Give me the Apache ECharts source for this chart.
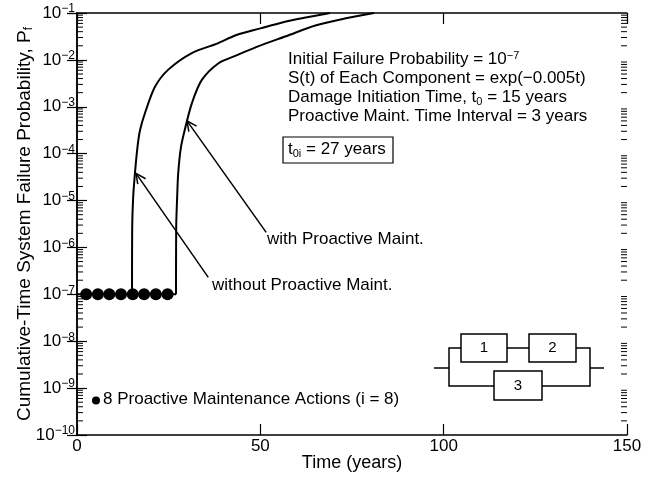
<!DOCTYPE html>
<html>
<head>
<meta charset="utf-8">
<script src="https://cdn.jsdelivr.net/npm/echarts@6/dist/echarts.min.js"></script>
<style>
html, body { margin: 0; padding: 0; background: #fff; }
#chart { width: 657px; height: 479px; }
</style>
</head>
<body>
<div id="chart"></div>
<script>
const FONT = '"Liberation Sans", Arial, Helvetica, sans-serif'

// axis ticks
const xTicks = [0, 50, 100, 150]
const yExponents = [-10, -9, -8, -7, -6, -5, -4, -3, -2, -1]
const minorFactors = [2, 3, 4, 5, 6, 7, 8, 9]

// initial failure probability plateau
const plateauT = [0, 27]
const plateauPf = [1e-7, 1e-7]

// without proactive maintenance (damage starts at t0 = 15 years)
const withoutT = [15, 15.05, 15.3, 15.8, 16.5, 17.2, 18.5, 21.3, 24.9, 31.3, 38, 43.5, 50, 56, 62, 69]
const withoutPf = [1e-7, 2.5e-6, 1.1e-5, 3.8e-5, 1.4e-4, 3.2e-4, 7.2e-4, 2.7e-3, 6.2e-3, 1.4e-2, 2.2e-2, 3.4e-2, 4.7e-2, 6.3e-2, 7.9e-2, 1e-1]

// with proactive maintenance (t0i = 27 years)
const withT = [27, 27.05, 27.3, 27.6, 28.3, 29.3, 31.3, 34, 38.6, 43, 49, 57, 65, 73, 81]
const withPf = [1e-7, 2.5e-6, 1.1e-5, 3.8e-5, 1.3e-4, 3.0e-4, 1.17e-3, 3.7e-3, 8.5e-3, 1.2e-2, 1.9e-2, 3.2e-2, 5.4e-2, 7.6e-2, 1e-1]

// proactive maintenance actions (dots)
const actionT = [2.5, 5.7, 8.8, 12, 15.2, 18.3, 21.5, 24.7]
const actionPf = 1e-7

// annotation arrows: [tailT, tailPf, headT, headPf]
const arrows = [
    [35.8, 2.3e-7, 16.1, 3.8e-5],   // without
    [51.6, 2.1e-6, 30.0, 5.0e-4]    // with
]

const minorTickValues = []
yExponents.slice(0, -1).forEach(e => {
    minorFactors.forEach(f => minorTickValues.push([0, f * Math.pow(10, e)]))
})

const black = '#000'
const chart = echarts.init(document.getElementById('chart'))

const supLabel = value => {
    const e = Math.round(Math.log10(value))
    return `{b|10}{s|${e < 0 ? '\u2212' + (-e) : e}}`
}

const curveLine = (name, ts, pfs) => ({
    name: name,
    type: 'line',
    showSymbol: false,
    smooth: 0.3,
    lineStyle: { color: black, width: 2 },
    data: ts.map((t, i) => [t, pfs[i]]),
    z: 3
})

const option = {
    animation: false,
    backgroundColor: '#fff',
    textStyle: { fontFamily: FONT, color: black },
    grid: { left: 77, right: 30, top: 13, bottom: 44, outerBoundsMode: 'none', containLabel: false },
    xAxis: [
        {
            type: 'value',
            min: xTicks[0],
            max: xTicks[xTicks.length - 1],
            interval: 50,
            name: 'Time (years)',
            nameLocation: 'middle',
            nameGap: 19,
            nameMoveOverlap: false,
            nameTextStyle: { fontSize: 18, fontFamily: FONT, color: black },
            axisLine: { lineStyle: { color: black, width: 1.5 } },
            axisTick: { inside: true, length: 11, lineStyle: { color: black, width: 1.2 } },
            axisLabel: { fontSize: 17, fontFamily: FONT, color: black, margin: 3 },
            splitLine: { show: false }
        },
        {
            type: 'value',
            position: 'top',
            min: xTicks[0],
            max: xTicks[xTicks.length - 1],
            interval: 50,
            axisLine: { lineStyle: { color: black, width: 1.5 } },
            axisTick: { inside: true, length: 11, lineStyle: { color: black, width: 1.2 } },
            axisLabel: { show: false },
            splitLine: { show: false }
        }
    ],
    yAxis: [
        {
            type: 'log',
            logBase: 10,
            min: Math.pow(10, yExponents[0]),
            max: Math.pow(10, yExponents[yExponents.length - 1]),
            splitNumber: 9,
            name: 'Cumulative-Time System Failure Probability, P{sub|f}',
            nameLocation: 'middle',
            nameGap: 42,
            nameMoveOverlap: false,
            nameTextStyle: {
                fontSize: 19, fontFamily: FONT, color: black, lineHeight: 21,
                rich: { sub: { fontSize: 12, fontFamily: FONT, lineHeight: 10, verticalAlign: 'bottom' } }
            },
            axisLine: { lineStyle: { color: black, width: 1.5 } },
            axisTick: { inside: true, length: 10, lineStyle: { color: black, width: 1.2 } },
            axisLabel: {
                margin: 2,
                formatter: supLabel,
                rich: {
                    b: { fontSize: 17, fontFamily: FONT, color: black, lineHeight: 20 },
                    s: { fontSize: 12, fontFamily: FONT, color: black, lineHeight: 10, verticalAlign: 'top' }
                }
            },
            splitLine: { show: false }
        },
        {
            type: 'log',
            logBase: 10,
            position: 'right',
            min: Math.pow(10, yExponents[0]),
            max: Math.pow(10, yExponents[yExponents.length - 1]),
            splitNumber: 9,
            axisLine: { lineStyle: { color: black, width: 1.5 } },
            axisTick: { inside: true, length: 10, lineStyle: { color: black, width: 1.2 } },
            axisLabel: { show: false },
            splitLine: { show: false }
        }
    ],
    series: [
        {
            name: 'plateau',
            type: 'line',
            showSymbol: false,
            lineStyle: { color: black, width: 2 },
            data: plateauT.map((t, i) => [t, plateauPf[i]]),
            z: 3
        },
        curveLine('without Proactive Maint.', withoutT, withoutPf),
        curveLine('with Proactive Maint.', withT, withPf),
        {
            name: 'Proactive Maintenance Actions',
            type: 'scatter',
            symbol: 'circle',
            symbolSize: 12,
            itemStyle: { color: black, opacity: 1 },
            data: actionT.map(t => [t, actionPf]),
            z: 4
        },
        {
            // minor log ticks, both sides
            type: 'custom',
            clip: false,
            silent: true,
            data: minorTickValues,
            renderItem: (params, api) => {
                const v = api.value(1)
                const l = api.coord([xTicks[0], v])
                const r = api.coord([xTicks[xTicks.length - 1], v])
                const st = { stroke: black, lineWidth: 1 }
                return {
                    type: 'group',
                    children: [
                        { type: 'line', shape: { x1: l[0], y1: l[1], x2: l[0] + 6, y2: l[1] }, style: st },
                        { type: 'line', shape: { x1: r[0], y1: r[1], x2: r[0] - 6, y2: r[1] }, style: st }
                    ]
                }
            }
        },
        {
            // annotation arrows
            type: 'custom',
            clip: false,
            silent: true,
            data: arrows,
            encode: { x: [0, 2], y: [1, 3] },
            renderItem: (params, api) => {
                const t = api.coord([api.value(0), api.value(1)])
                const h = api.coord([api.value(2), api.value(3)])
                const ang = Math.atan2(t[1] - h[1], t[0] - h[0])
                const len = 11, spread = 0.45
                const w1 = [h[0] + len * Math.cos(ang + spread), h[1] + len * Math.sin(ang + spread)]
                const w2 = [h[0] + len * Math.cos(ang - spread), h[1] + len * Math.sin(ang - spread)]
                const st = { stroke: black, lineWidth: 1.5, fill: null }
                return {
                    type: 'group',
                    children: [
                        { type: 'line', shape: { x1: t[0], y1: t[1], x2: h[0], y2: h[1] }, style: st },
                        { type: 'polyline', shape: { points: [w1, h, w2] }, style: st }
                    ]
                }
            }
        }
    ],
    graphic: [
        {
            type: 'text',
            left: 288,
            top: 50,
            style: {
                text: 'Initial Failure Probability = 10{sup|\u22127}\n' +
                    'S(t) of Each Component = exp(\u22120.005t)\n' +
                    'Damage Initiation Time, t{sub|0} = 15 years\n' +
                    'Proactive Maint. Time Interval = 3 years',
                font: '17px ' + FONT,
                fill: black,
                lineHeight: 19,
                rich: {
                    sup: { font: '11px ' + FONT, lineHeight: 10, verticalAlign: 'top' },
                    sub: { font: '11px ' + FONT, lineHeight: 10, verticalAlign: 'bottom' }
                }
            }
        },
        {
            type: 'rect',
            shape: { x: 283, y: 137, width: 110, height: 26 },
            style: { fill: null, stroke: black, lineWidth: 1.2 }
        },
        {
            type: 'text',
            left: 288,
            top: 139,
            style: {
                text: 't{sub|0i} = 27 years',
                font: '17px ' + FONT,
                fill: black,
                lineHeight: 20,
                rich: { sub: { font: '11px ' + FONT, lineHeight: 10, verticalAlign: 'bottom' } }
            }
        },
        {
            type: 'text',
            left: 267,
            top: 231,
            style: { text: 'with Proactive Maint.', font: '17px ' + FONT, fill: black }
        },
        {
            type: 'text',
            left: 212,
            top: 277,
            style: { text: 'without Proactive Maint.', font: '17px ' + FONT, fill: black }
        },
        {
            type: 'circle',
            shape: { cx: 96, cy: 400.5, r: 4 },
            style: { fill: black }
        },
        {
            type: 'text',
            left: 103,
            top: 391,
            style: { text: '8 Proactive Maintenance Actions (i = 8)', font: '17px ' + FONT, fill: black }
        },
        // series system diagram: (1 - 2) in parallel with 3
        {
            type: 'group',
            children: [
                { type: 'polyline', shape: { points: [[434, 368], [449, 368]] }, style: { stroke: black, lineWidth: 1.5 } },
                { type: 'polyline', shape: { points: [[461, 348], [449, 348], [449, 386], [494, 386]] }, style: { stroke: black, lineWidth: 1.5, fill: null } },
                { type: 'polyline', shape: { points: [[507, 348], [529, 348]] }, style: { stroke: black, lineWidth: 1.5 } },
                { type: 'polyline', shape: { points: [[576, 348], [590, 348], [590, 386], [542, 386]] }, style: { stroke: black, lineWidth: 1.5, fill: null } },
                { type: 'polyline', shape: { points: [[590, 368], [604, 368]] }, style: { stroke: black, lineWidth: 1.5 } },
                { type: 'rect', shape: { x: 461, y: 334, width: 46, height: 28 }, style: { fill: '#fff', stroke: black, lineWidth: 1.5 } },
                { type: 'rect', shape: { x: 529, y: 334, width: 47, height: 28 }, style: { fill: '#fff', stroke: black, lineWidth: 1.5 } },
                { type: 'rect', shape: { x: 494, y: 371, width: 48, height: 29 }, style: { fill: '#fff', stroke: black, lineWidth: 1.5 } },
                { type: 'text', x: 484, y: 348, style: { text: '1', font: '15px ' + FONT, fill: black, align: 'center', verticalAlign: 'middle' } },
                { type: 'text', x: 552.5, y: 348, style: { text: '2', font: '15px ' + FONT, fill: black, align: 'center', verticalAlign: 'middle' } },
                { type: 'text', x: 518, y: 385.5, style: { text: '3', font: '15px ' + FONT, fill: black, align: 'center', verticalAlign: 'middle' } }
            ]
        }
    ]
}

chart.setOption(option)
</script>
</body>
</html>
